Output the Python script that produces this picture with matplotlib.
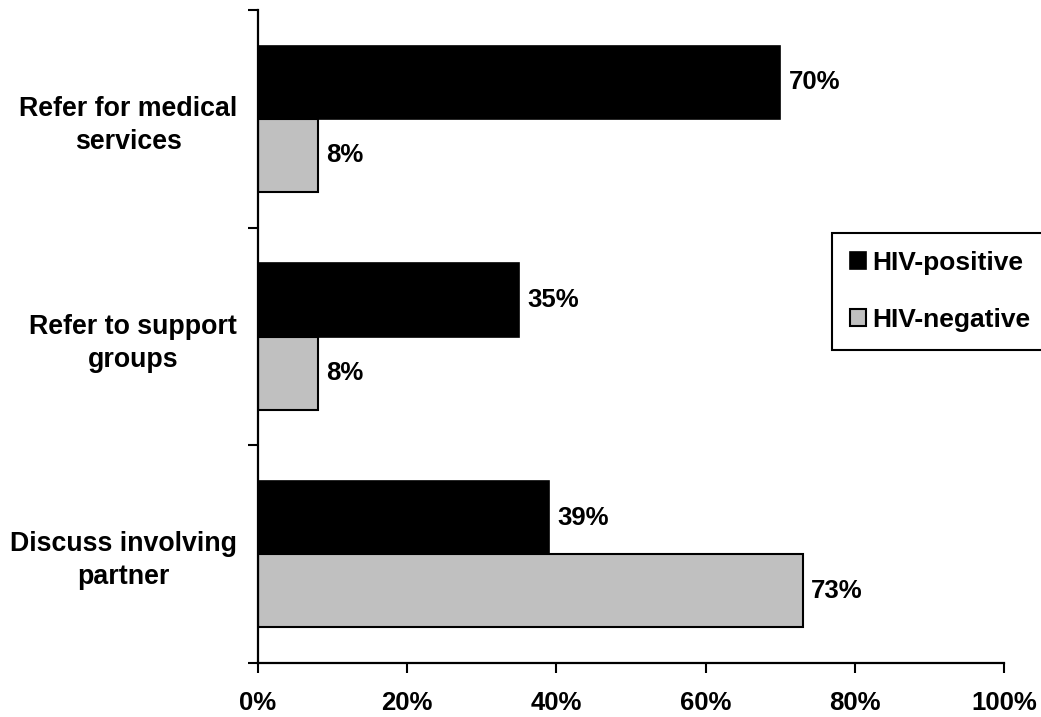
import matplotlib
matplotlib.use("Agg")
import matplotlib.pyplot as plt
from matplotlib.ticker import PercentFormatter
import numpy as np

plt.rcParams['font.family'] = ['Liberation Sans', 'DejaVu Sans']
plt.rcParams['font.weight'] = 'bold'

categories = ['Refer for medical\nservices', 'Refer to support\ngroups', 'Discuss involving\npartner']
hiv_positive = [70, 35, 39]
hiv_negative = [8, 8, 73]
series_names = ['HIV-positive', 'HIV-negative']

fs = 18.5
fig = plt.figure(figsize=(10.41, 7.17), dpi=100)
ax = fig.add_axes([0.2478, 0.0753, 0.9645 - 0.2478, 0.986 - 0.0753])

y = np.arange(len(categories))
h = 0.336
b1 = ax.barh(y - h / 2, hiv_positive, height=h, color='black', edgecolor='black',
             linewidth=1.2, label=series_names[0])
b2 = ax.barh(y + h / 2, hiv_negative, height=h, color='#c0c0c0', edgecolor='black',
             linewidth=1.5, label=series_names[1])
for bars, vals in [(b1, hiv_positive), (b2, hiv_negative)]:
    ax.bar_label(bars, labels=[f'{v}%' for v in vals], padding=6, fontsize=fs, fontweight='bold')

ax.set_ylim(len(categories) - 0.5, -0.5)
ax.set_xlim(0, 100)
ax.set_xticks(np.arange(0, 101, 20))
ax.xaxis.set_major_formatter(PercentFormatter(decimals=0))

ax.set_yticks(y)
ax.set_yticklabels(categories, fontsize=19.3, fontweight='bold')
for t in ax.get_yticklabels():
    t.set_multialignment('center')
    t.set_linespacing(1.35)
ax.set_yticks(np.arange(-0.5, len(categories)), minor=True)
ax.tick_params(axis='y', which='major', length=0, pad=15)
ax.tick_params(axis='y', which='minor', length=7, width=1.5, direction='out')
ax.tick_params(axis='x', length=7, width=1.5, direction='out', pad=13, labelsize=fs)

for s in ['top', 'right']:
    ax.spines[s].set_visible(False)
for s in ['left', 'bottom']:
    ax.spines[s].set_linewidth(1.6)

leg = ax.legend(loc='upper left', bbox_to_anchor=(0.799, 0.675), bbox_transform=fig.transFigure,
                borderaxespad=0, fancybox=False, edgecolor='black', framealpha=1,
                prop={'size': 19, 'weight': 'bold'}, handlelength=0.62, handleheight=0.62,
                handletextpad=0.25, labelspacing=1.25, borderpad=0.68)
leg.get_frame().set_linewidth(1.5)

fig.savefig('out.png', dpi=100)
